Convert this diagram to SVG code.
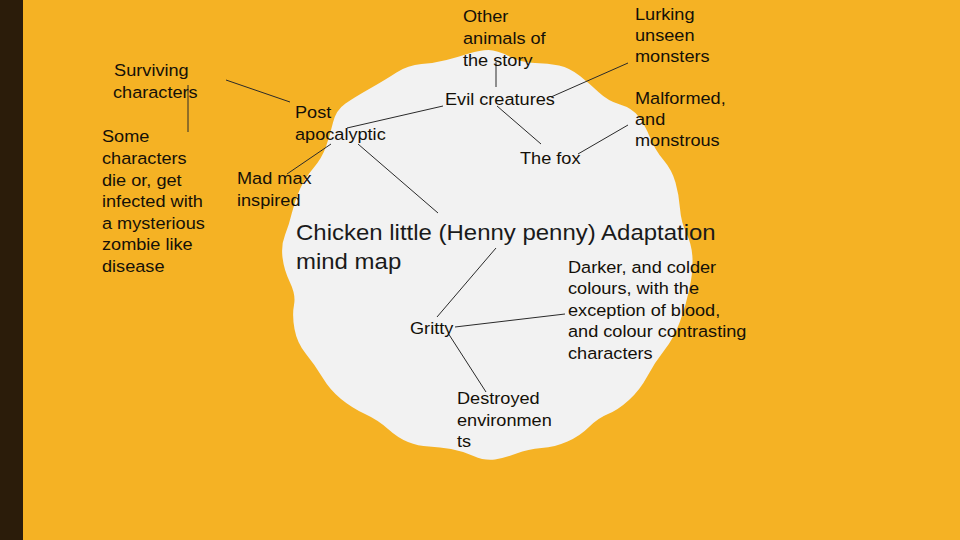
<svg xmlns="http://www.w3.org/2000/svg" width="960" height="540" viewBox="0 0 960 540">
<style>
.lbl{font-family:"Liberation Sans",Arial,sans-serif;font-size:16.5px;fill:#141008}
.ttl{font-family:"Liberation Sans",Arial,sans-serif;font-size:22px;fill:#1a1a1a}
.con line{stroke:#2a2a2a;stroke-width:1}
</style>
<rect x="0" y="0" width="960" height="540" fill="#F5B224"/>
<rect x="0" y="0" width="23" height="540" fill="#2B1C0A"/>
<path id="blob" fill="#F2F2F2" d="M488.5,50 Q497,50 509.5,56.5 T535,63 T559,65.5 T580,76 T599,92.5 T620,104.5 T638.5,116.5 T650,137.5 T663.5,160 T675.5,182.5 T680,208.5 T686.5,233.5 T692.5,258.5 T689.5,288.5 T680,321.5 T664.5,350 T647.5,376 T629,400 T608,414 T589,427 T567.5,441.5 T541.5,448 T516.5,453.5 T495,459.5 T473.5,456 T451,449 T429,446.5 T408,442 T388,429 T365,414 T341,399 T322.5,377.5 T306,354 T294.5,329 T294,305 T290,282.5 T282.5,257.5 T285,235 T292,212.5 T300,189 T313.5,168 T326,146.5 T333,122.5 T345.5,103.5 T370,88.5 T396.5,72.5 T421.5,64 T446.5,60 T469,53.5 T488.5,50 Z"/>
<g id="connectors" class="con">
<line x1="188" y1="85" x2="188" y2="132"/>
<line x1="226" y1="80" x2="290" y2="102"/>
<line x1="331" y1="144" x2="287" y2="174"/>
<line x1="347" y1="128" x2="443" y2="106"/>
<line x1="358" y1="144" x2="438" y2="213"/>
<line x1="496" y1="62" x2="496" y2="87"/>
<line x1="551" y1="97" x2="628" y2="63"/>
<line x1="497" y1="106" x2="541" y2="144"/>
<line x1="578" y1="154" x2="628" y2="125"/>
<line x1="496" y1="248" x2="437" y2="317"/>
<line x1="455" y1="327" x2="565" y2="314"/>
<line x1="448" y1="333" x2="486" y2="392"/>
</g>
<g id="other-animals" transform="translate(463,0) scale(1.1,1)"><text class="lbl"><tspan x="0" y="22">Other</tspan><tspan x="0" y="44">animals of</tspan><tspan x="0" y="66">the story</tspan></text></g>
<g id="lurking" transform="translate(635,0) scale(1.1,1)"><text class="lbl"><tspan x="0" y="20">Lurking</tspan><tspan x="0" y="41">unseen</tspan><tspan x="0" y="62">monsters</tspan></text></g>
<g id="surviving" transform="translate(113,0) scale(1.1,1)"><text class="lbl"><tspan x="1" y="76">Surviving</tspan><tspan x="0" y="98">characters</tspan></text></g>
<g id="some-characters" transform="translate(102,0) scale(1.1,1)"><text class="lbl"><tspan x="0" y="142">Some</tspan><tspan x="0" y="164">characters</tspan><tspan x="0" y="186">die or, get</tspan><tspan x="0" y="207">infected with</tspan><tspan x="0" y="229">a mysterious</tspan><tspan x="0" y="250">zombie like</tspan><tspan x="0" y="272">disease</tspan></text></g>
<g id="post-apocalyptic" transform="translate(295,0) scale(1.1,1)"><text class="lbl"><tspan x="0" y="118">Post</tspan><tspan x="0" y="140">apocalyptic</tspan></text></g>
<g id="evil-creatures" transform="translate(445,0) scale(1.1,1)"><text class="lbl" x="0" y="105">Evil creatures</text></g>
<g id="malformed" transform="translate(635,0) scale(1.1,1)"><text class="lbl"><tspan x="0" y="104">Malformed,</tspan><tspan x="0" y="125">and</tspan><tspan x="0" y="146">monstrous</tspan></text></g>
<g id="the-fox" transform="translate(520,0) scale(1.1,1)"><text class="lbl" x="0" y="164">The fox</text></g>
<g id="mad-max" transform="translate(237,0) scale(1.1,1)"><text class="lbl"><tspan x="0" y="184">Mad max</tspan><tspan x="0" y="206">inspired</tspan></text></g>
<g id="title" transform="translate(296,0) scale(1.09,1)"><text class="ttl"><tspan x="0" y="240">Chicken little (Henny penny) Adaptation</tspan><tspan x="0" y="269">mind map</tspan></text></g>
<g id="darker" transform="translate(568,0) scale(1.1,1)"><text class="lbl"><tspan x="0" y="273">Darker, and colder</tspan><tspan x="0" y="294">colours, with the</tspan><tspan x="0" y="316">exception of blood,</tspan><tspan x="0" y="337">and colour contrasting</tspan><tspan x="0" y="359">characters</tspan></text></g>
<g id="gritty" transform="translate(410,0) scale(1.1,1)"><text class="lbl" x="0" y="334">Gritty</text></g>
<g id="destroyed" transform="translate(457,0) scale(1.1,1)"><text class="lbl"><tspan x="0" y="404">Destroyed</tspan><tspan x="0" y="426">environmen</tspan><tspan x="0" y="447">ts</tspan></text></g>
</svg>
